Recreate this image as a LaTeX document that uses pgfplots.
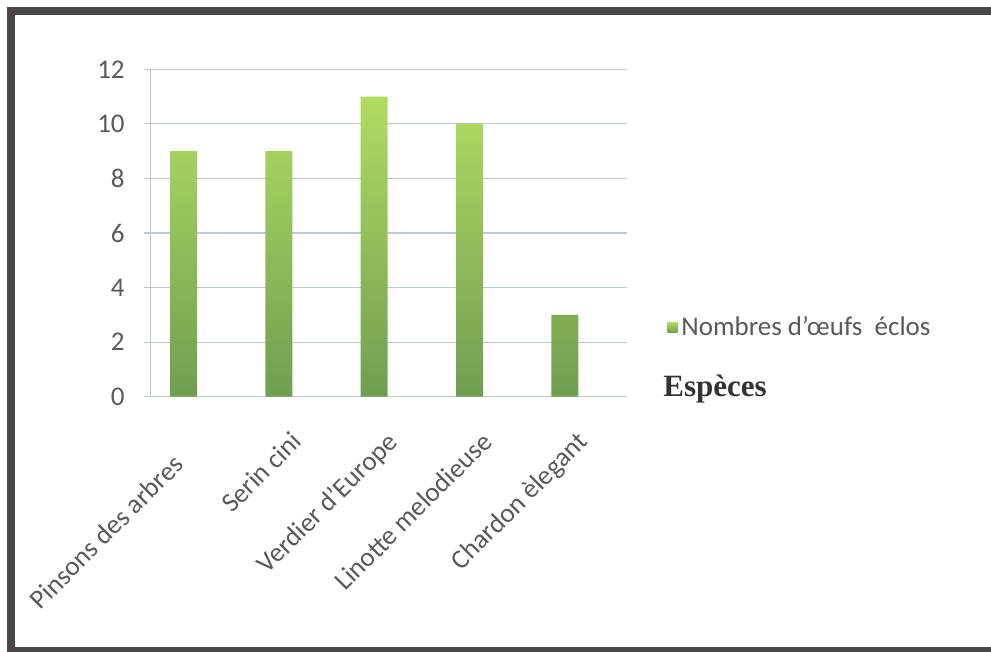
\documentclass[border=0pt]{standalone}
\usepackage{pgfplots}
\pgfplotsset{compat=1.18}
\usepackage{fontspec}
\setmainfont{Carlito}
\newfontfamily\serifbold{Liberation Serif}
\definecolor{framec}{RGB}{74,70,70}
\definecolor{gridc}{RGB}{190,200,210}
\definecolor{tickc}{RGB}{89,89,89}
\definecolor{bartop}{RGB}{176,220,98}
\definecolor{barbot}{RGB}{112,158,80}
\definecolor{legc}{RGB}{150,200,100}
\begin{document}
\begin{tikzpicture}
\useasboundingbox (0,0) rectangle (495.5pt,326pt);
\begin{axis}[
  scale only axis,
  width=237.9pt, height=163.7pt,
  at={(75.35pt,127.65pt)}, anchor=south west,
  xmin=-0.344, xmax=4.645,
  ymin=0, ymax=12,
  ytick={0,2,...,12},
  xtick={0,1,2,3,4},
  xticklabels={Pinsons des arbres\rule{16pt}{0pt}, Serin cini, Verdier d’Europe, Linotte melodieuse, Chardon èlegant},
  extra x ticks={-0.344,0.656,1.656,2.656,3.656,4.645},
  extra x tick labels={},
  extra x tick style={major tick length=5pt, tick align=outside, tick style={draw=gridc, line width=0.6pt}},
  x tick style={draw=none},
  y tick style={draw=gridc, line width=0.6pt},
  tick align=outside,
  major tick length=3.5pt,
  axis x line*=bottom, axis y line*=left,
  axis line style={draw=gridc, line width=0.6pt, -},
  ymajorgrids, grid style={draw=gridc, line width=0.6pt},
  /pgf/number format/assume math mode=true,
  ticklabel style={font=\fontsize{13.5}{16}\selectfont, text=tickc},
  yticklabel style={xshift=-6pt},
  xticklabel style={xshift=5.5pt, yshift=-13pt, rotate=45, anchor=north east, inner sep=0pt},
  legend style={at={(1.085,0.212)}, anchor=west, draw=none, fill=none,
    font=\fontsize{13.5}{16}\selectfont, text=tickc, inner sep=0pt,
    /tikz/every even column/.append style={column sep=2pt}},
  legend image code/.code={\fill[legc] (0pt,-2.5pt) rectangle (5pt,2.5pt);},
  clip=false,
]
\addplot[ybar, bar width=13.5pt, draw=none, top color=bartop, bottom color=barbot]
  coordinates {(0,9) (1,9) (2,11) (3,10) (4,3)};
\addlegendentry{Nombres d’œufs\ \ éclos}
\end{axis}
\node[anchor=base west, inner sep=0pt, text=black!80] at (331.5pt,127.5pt) {\serifbold\bfseries\fontsize{15.5}{18}\selectfont Espèces};
\draw[framec, line width=4pt] (520pt,320.5pt) -- (5.5pt,320.5pt) -- (5.5pt,0.5pt) -- (520pt,0.5pt);
\end{tikzpicture}
\end{document}
